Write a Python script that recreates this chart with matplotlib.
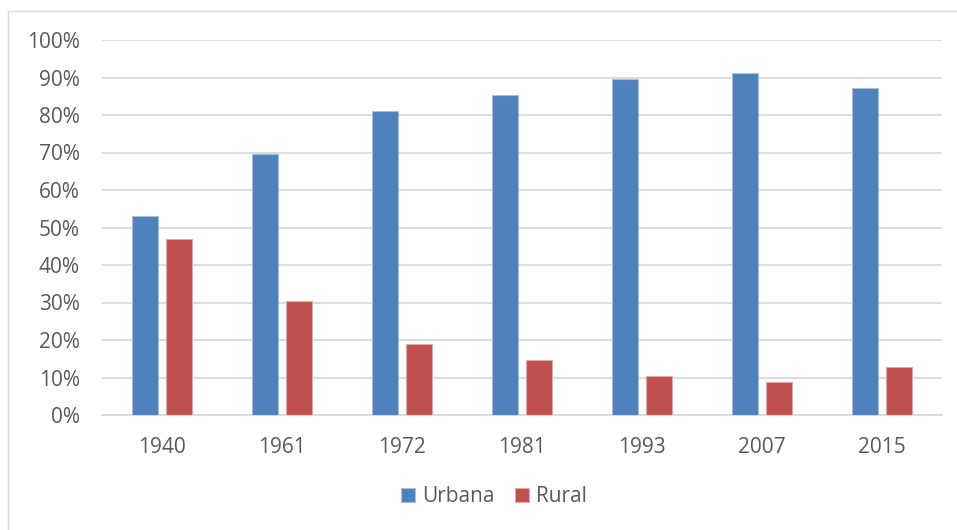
import matplotlib
matplotlib.use("Agg")
import matplotlib.pyplot as plt
import numpy as np
from matplotlib.patches import Rectangle

years = ["1940", "1961", "1972", "1981", "1993", "2007", "2015"]
urbana = [53.0, 69.6, 81.0, 85.4, 89.7, 91.2, 87.2]
rural = [47.0, 30.4, 19.0, 14.6, 10.3, 8.8, 12.8]
series_names = ["Urbana", "Rural"]

plt.rcParams['font.family'] = ['Open Sans', 'DejaVu Sans']
TXT = '#595959'
GRID = '#D9D9D9'

fig = plt.figure(figsize=(9.57, 5.30), dpi=100)
fig.patch.set_facecolor('white')
fig.patches.append(Rectangle((8/957, -0.1), 1.2, 1 - 11/530 + 0.1, transform=fig.transFigure,
                             fill=False, edgecolor=GRID, linewidth=1.0, zorder=0))

ax = fig.add_axes([102/957, 1 - 415/530, (942 - 102)/957, (415 - 40)/530])
x = np.arange(len(years))
w = 0.222
off = 0.142
ax.bar(x - off, urbana, width=w, color='#4F81BD', edgecolor='#A7BFDE', linewidth=0.8,
       label=series_names[0], zorder=3)
ax.bar(x + off, rural, width=w, color='#C0504D', edgecolor='#E0A8A6', linewidth=0.8,
       label=series_names[1], zorder=3)

ax.set_xlim(-0.5, len(years) - 0.5)
ax.set_ylim(0, 100)
ax.set_yticks(np.arange(0, 101, 10))
ax.set_yticklabels([f"{v}%" for v in range(0, 101, 10)])
ax.set_xticks(x)
ax.set_xticklabels(years)
ax.yaxis.grid(True, color=GRID, linewidth=1.3, zorder=0)
ax.set_axisbelow(True)
for s in ['top', 'right', 'left']:
    ax.spines[s].set_visible(False)
ax.spines['bottom'].set_color(GRID)
ax.spines['bottom'].set_linewidth(1.3)
ax.tick_params(axis='both', length=0, labelsize=15, labelcolor=TXT)
ax.tick_params(axis='y', pad=16)
ax.tick_params(axis='x', pad=15.5)

leg = fig.legend(loc='center', bbox_to_anchor=(494/957, 1 - 497/530), ncol=2, frameon=False,
                 fontsize=15, handlelength=0.65, handleheight=0.65, handletextpad=0.35,
                 columnspacing=1.0)
for t in leg.get_texts():
    t.set_color(TXT)

fig.savefig("out.png", dpi=100)
